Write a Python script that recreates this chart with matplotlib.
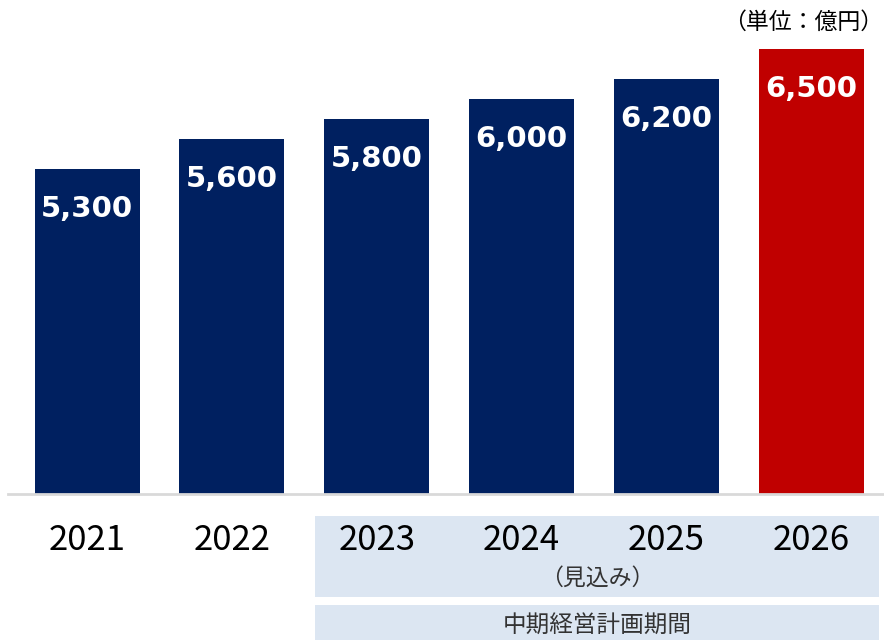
import matplotlib
matplotlib.use("Agg")
import matplotlib.pyplot as plt
from matplotlib import transforms
from matplotlib.patches import Rectangle

years = ["2021", "2022", "2023", "2024", "2025", "2026"]
values = [5300, 5600, 5800, 6000, 6200, 6500]
value_labels = ["5,300", "5,600", "5,800", "6,000", "6,200", "6,500"]
bar_colors = ["#002060", "#002060", "#002060", "#002060", "#002060", "#C00000"]
unit_label = "（単位：億円）"
forecast_label = "（見込み）"
plan_label = "中期経営計画期間"

W, H = 884, 640
fig = plt.figure(figsize=(W / 100, H / 100), dpi=100)
fig.patch.set_facecolor("white")

def fy(py):
    return 1 - py / H

ax = fig.add_axes([8 / W, fy(494), 876 / W, (494 - 40) / H])
x = list(range(len(years)))
ax.bar(x, values, width=0.725, color=bar_colors, zorder=2)
ax.set_xlim(-0.546, 5.504)
ax.set_ylim(2050, 6590)
for s in ["top", "right", "left"]:
    ax.spines[s].set_visible(False)
ax.spines["bottom"].set_color("#D9D9D9")
ax.spines["bottom"].set_linewidth(2)
ax.set_yticks([])
ax.set_xticks([])

cjk = ["Noto Sans CJK JP", "DejaVu Sans"]

for xi, v, lab in zip(x, values, value_labels):
    ax.text(xi, v - 400, lab, ha="center", va="center", color="white",
            fontsize=21, fontweight="bold", family="DejaVu Sans", zorder=3)

bt = transforms.blended_transform_factory(ax.transData, fig.transFigure)

# shaded boxes for plan period
x0 = 1.575
x1 = 5.47
ax.add_patch(Rectangle((x0, fy(597)), x1 - x0, (597 - 516) / H, transform=bt,
                       facecolor="#DCE6F2", edgecolor="none", clip_on=False, zorder=0))
ax.add_patch(Rectangle((x0, fy(645)), x1 - x0, (645 - 605) / H, transform=bt,
                       facecolor="#DCE6F2", edgecolor="none", clip_on=False, zorder=0))

for xi, yr in zip(x, years):
    ax.text(xi, fy(541), yr, transform=bt, ha="center", va="center",
            fontsize=25, family=cjk, color="black")

ax.text((x0 + x1) / 2, fy(578), forecast_label, transform=bt, ha="center", va="center",
        fontsize=16.5, family=cjk, color="#333333")
ax.text((x0 + x1) / 2, fy(625), plan_label, transform=bt, ha="center", va="center",
        fontsize=17, family=cjk, color="#333333")

fig.text(883 / W, fy(22), unit_label, ha="right", va="center", fontsize=16.5,
         family=cjk, color="black")

fig.savefig("out.png", dpi=100, facecolor="white")
